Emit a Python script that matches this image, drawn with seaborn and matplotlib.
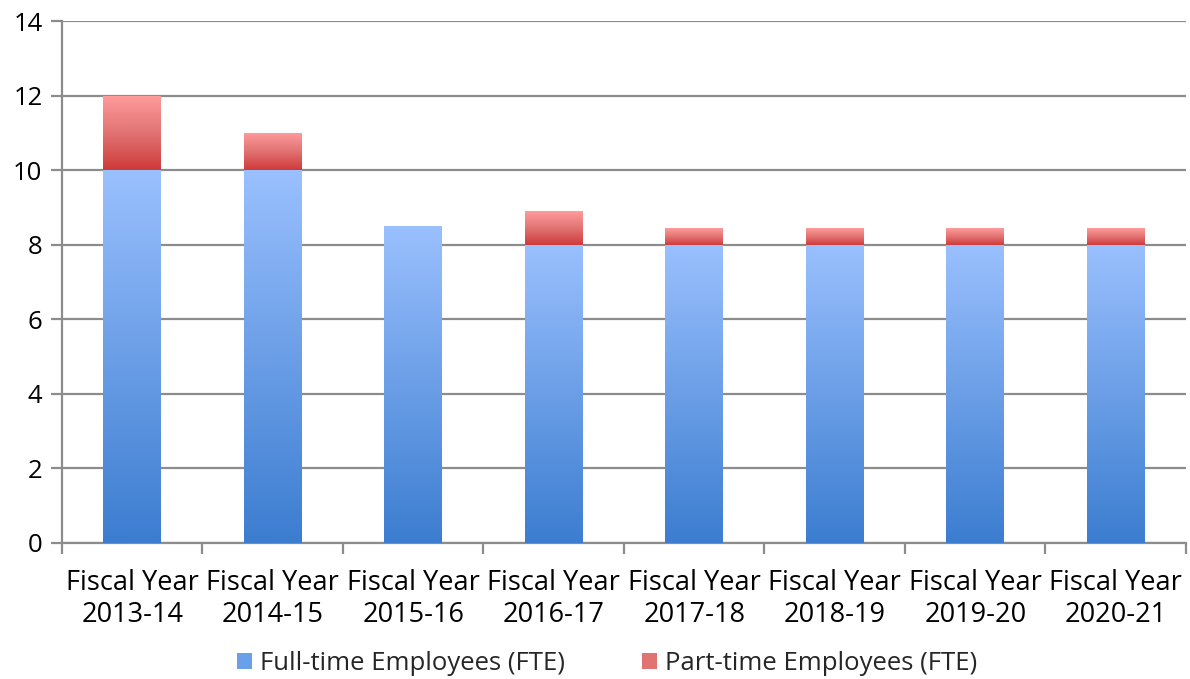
import numpy as np
import pandas as pd
import matplotlib
matplotlib.use("Agg")
import matplotlib.pyplot as plt
import seaborn as sns
from matplotlib.colors import LinearSegmentedColormap
from matplotlib.patches import Patch

categories = ["Fiscal Year\n2013-14", "Fiscal Year\n2014-15", "Fiscal Year\n2015-16",
              "Fiscal Year\n2016-17", "Fiscal Year\n2017-18", "Fiscal Year\n2018-19",
              "Fiscal Year\n2019-20", "Fiscal Year\n2020-21"]
full_time = [10, 10, 8.5, 8, 8, 8, 8, 8]
part_time = [2, 1, 0, 0.9, 0.45, 0.45, 0.45, 0.45]
series_names = ["Full-time Employees (FTE)", "Part-time Employees (FTE)"]
y_ticks = [0, 2, 4, 6, 8, 10, 12, 14]

sns.set_style("white")
plt.rcParams['font.family'] = ['Open Sans', 'DejaVu Sans']

df = pd.DataFrame({"cat": categories, "ft": full_time, "pt": part_time})
df["total"] = df["ft"] + df["pt"]

fig = plt.figure(figsize=(11.9, 6.79), dpi=100)
ax = fig.add_axes([0.0521, 0.2003, 0.9445, 0.7687])

blue_cmap = LinearSegmentedColormap.from_list("b", ["#3c7dd0", "#9ac0fe"])
red_cmap = LinearSegmentedColormap.from_list("r", ["#cf3a3a", "#e27373", "#ff9c9c"])

sns.barplot(data=df, x="cat", y="total", color="#e27373", width=0.41, ax=ax,
            saturation=1, linewidth=0, zorder=3)
n_red = len(ax.patches)
sns.barplot(data=df, x="cat", y="ft", color="#6aa0ea", width=0.41, ax=ax,
            saturation=1, linewidth=0, zorder=3)

grad = np.linspace(0, 1, 256).reshape(-1, 1)
red_patches = ax.patches[:n_red]
blue_patches = ax.patches[n_red:]
for p, ft, tot in zip(red_patches, df["ft"], df["total"]):
    if tot - ft <= 0:
        continue
    x0 = p.get_x(); w = p.get_width()
    im = ax.imshow(grad, cmap=red_cmap, origin="lower", aspect="auto",
                   extent=[x0, x0 + w, ft, tot], zorder=3.5)
    im.set_clip_path(p)
for p, ft in zip(blue_patches, df["ft"]):
    x0 = p.get_x(); w = p.get_width()
    im = ax.imshow(grad, cmap=blue_cmap, origin="lower", aspect="auto",
                   extent=[x0, x0 + w, 0, ft], zorder=3.6)
    im.set_clip_path(p)
    p.set_zorder(3.55)

ax.set_xlim(-0.5, len(categories) - 0.5)
ax.set_ylim(0, 14)
ax.set_yticks(y_ticks)
ax.set_xlabel("")
ax.set_ylabel("")
ax.yaxis.grid(True, color="#8c8c8c", linewidth=1.6, zorder=1)
ax.set_axisbelow(True)
for s in ["top", "right"]:
    ax.spines[s].set_visible(False)
for s in ["left", "bottom"]:
    ax.spines[s].set_color("#8c8c8c")
    ax.spines[s].set_linewidth(1.6)

ax.set_xticks(np.arange(len(categories)))
ax.set_xticklabels(categories)
ax.tick_params(axis="x", length=0, pad=19, labelsize=19.5, colors="black")
ax.set_xticks(np.arange(len(categories) + 1) - 0.5, minor=True)
ax.tick_params(axis="x", which="minor", length=8, width=1.6, color="#8c8c8c", direction="out")
ax.tick_params(axis="y", length=8, width=1.6, color="#8c8c8c", direction="out",
               labelsize=18.5, labelcolor="black", pad=6)
ax.yaxis.set_ticks_position("left")
ax.xaxis.set_ticks_position("bottom")
for lbl in ax.get_xticklabels():
    lbl.set_linespacing(1.15)

handles = [Patch(facecolor="#6aa0ea", edgecolor="none"),
           Patch(facecolor="#e27373", edgecolor="none")]
fig.legend(handles, series_names, loc="center", bbox_to_anchor=(0.51, 0.023), ncol=2,
           frameon=False, fontsize=18.5, handlelength=0.6, handleheight=0.6,
           handletextpad=0.3, columnspacing=3.0)

fig.savefig("out.png", dpi=100)
